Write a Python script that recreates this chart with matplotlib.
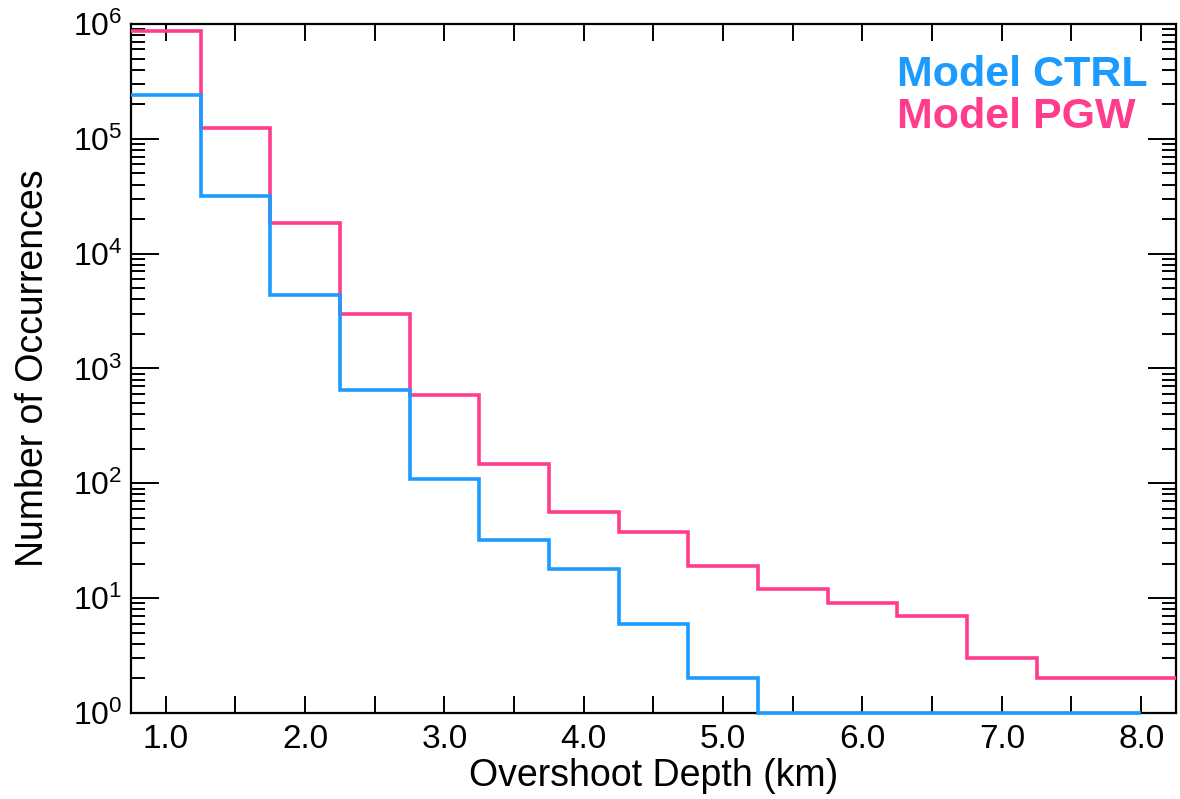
import numpy as np
import matplotlib
matplotlib.use("Agg")
import matplotlib.pyplot as plt
from matplotlib.ticker import MultipleLocator, FuncFormatter, LogLocator, NullFormatter

plt.rcParams['font.family'] = ['Liberation Sans', 'DejaVu Sans']
plt.rcParams['mathtext.fontset'] = 'custom'
plt.rcParams['mathtext.rm'] = 'Liberation Sans'
plt.rcParams['mathtext.it'] = 'Liberation Sans'

# Bin centres of overshoot depth (km)
depth_centers = np.arange(1.0, 8.01, 0.5)

# Counts per bin
ctrl_counts = [2.4e5, 3.2e4, 4.35e3, 650, 110, 32, 18, 6, 2, 1, 1, 1, 1, 1, 1]
pgw_counts = [8.6e5, 1.25e5, 1.85e4, 3.0e3, 590, 148, 56, 38, 19, 12, 9, 7, 3, 2, 2]

x_tick_labels = ['1.0', '2.0', '3.0', '4.0', '5.0', '6.0', '7.0', '8.0']

ctrl_color = '#1c9bff'
pgw_color = '#ff3d8c'

half = 0.25
mids = (depth_centers[:-1] + depth_centers[1:]) / 2
pgw_edges = np.r_[depth_centers[0] - half, mids, depth_centers[-1] + half]
ctrl_edges = np.r_[depth_centers[0] - half, mids, depth_centers[-1]]

fig = plt.figure(figsize=(11.8, 7.99), dpi=100)
ax = fig.add_axes([0.111, 0.1076, 0.8856, 0.8624])

ax.stairs(ctrl_counts, ctrl_edges, baseline=None, color=ctrl_color,
          linewidth=2.6, zorder=4, clip_on=False)
ax.stairs(pgw_counts, pgw_edges, baseline=None, color=pgw_color,
          linewidth=2.6, zorder=3)

ax.set_yscale('log')
ax.set_xlim(0.75, 8.25)
ax.set_ylim(1, 1e6)

ax.xaxis.set_major_locator(MultipleLocator(0.5))
ax.xaxis.set_major_formatter(FuncFormatter(
    lambda v, p: x_tick_labels[int(round(v)) - 1]
    if abs(v - round(v)) < 1e-6 and 1 <= round(v) <= 8 else ''))
ax.yaxis.set_major_locator(LogLocator(base=10, numticks=10))
ax.yaxis.set_major_formatter(FuncFormatter(
    lambda v, p: r'$\mathregular{10^{%d}}$' % int(round(np.log10(v)))))
ax.yaxis.set_minor_locator(LogLocator(base=10, subs=np.arange(2, 10), numticks=20))
ax.yaxis.set_minor_formatter(NullFormatter())

ax.tick_params(axis='x', which='major', direction='in', length=12, width=1.4,
               top=True, bottom=True, labelsize=24, pad=8)
ax.tick_params(axis='y', which='major', direction='in', length=20, width=1.4,
               left=True, right=True, labelsize=23, pad=6)
ax.tick_params(axis='y', which='minor', direction='in', length=10, width=1.4,
               left=True, right=True)
ax.tick_params(axis='x', which='minor', bottom=False, top=False)

for s in ax.spines.values():
    s.set_linewidth(1.6)

ax.set_xlabel('Overshoot Depth (km)', fontsize=27, labelpad=2)
ax.set_ylabel('Number of Occurrences', fontsize=27, labelpad=16)

ax.text(0.733, 0.910, 'Model CTRL', transform=ax.transAxes, color=ctrl_color,
        fontsize=31, fontweight='bold', ha='left', va='baseline')
ax.text(0.733, 0.849, 'Model PGW', transform=ax.transAxes, color=pgw_color,
        fontsize=31, fontweight='bold', ha='left', va='baseline')

fig.savefig('out.png', dpi=100)
